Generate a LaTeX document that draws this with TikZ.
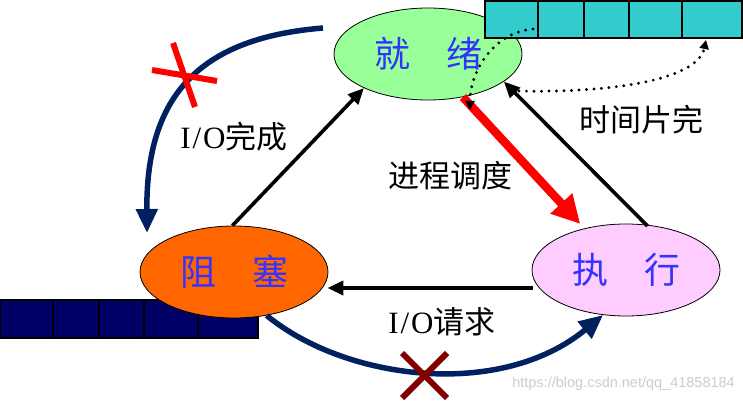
\documentclass[tikz,border=0pt]{standalone}
\usepackage{fontspec}
\setmainfont{Liberation Serif}
\newfontfamily\cjk{Noto Sans CJK SC}
\newfontfamily\lat[LetterSpace=6]{Liberation Serif}
\newfontfamily\wmfont{Liberation Sans}
\usetikzlibrary{shapes.geometric,arrows.meta,calc}
\definecolor{readyfill}{RGB}{153,255,153}
\definecolor{blockfill}{RGB}{255,102,0}
\definecolor{execfill}{RGB}{255,204,255}
\definecolor{qcyan}{RGB}{51,204,204}
\definecolor{qnavy}{RGB}{0,0,102}
\definecolor{curvenavy}{RGB}{0,32,96}
\definecolor{txtblue}{RGB}{51,51,255}
\definecolor{xdark}{RGB}{128,0,0}
\begin{document}
\begin{tikzpicture}[x=1pt,y=-1pt,
  state/.style={ellipse, draw=black, line width=0.8pt, minimum width=188pt,
    minimum height=92pt, inner sep=0pt, text=txtblue,
    font=\cjk\fontsize{36}{42}\selectfont},
  trans/.style={line width=3.6pt, -{Triangle[length=16pt,width=14pt]}},
  sched/.style={draw=red, line width=8.5pt, -{Triangle[length=28pt,width=28pt]}},
  lbl/.style={font=\fontsize{31}{37}\selectfont, text=black, inner sep=0pt},
  bigcurve/.style={draw=curvenavy, line width=5.5pt, -{Triangle[length=24pt,width=21pt]}},
  dotline/.style={line width=3.2pt, dash pattern=on 0pt off 7.5pt, line cap=round,
    -{Triangle[length=9pt,width=9pt]}},
  crossline/.style={line width=6pt},
  queuebox/.style={draw=black, line width=1.2pt},
]
\useasboundingbox (0,0) rectangle (743,401);

% ready state and its queue
\node[state, fill=readyfill] (ready) at (428,54) {就\hspace{1em}绪};
\draw[queuebox, fill=qcyan] (485,1) rectangle (742,38);
\foreach \qx in {538,584,629,682} \draw[queuebox] (\qx,1) -- (\qx,38);

% blocked queue and blocked state
\draw[queuebox, fill=qnavy] (0,300) rectangle (258,338);
\foreach \qx in {53,99,144,198} \draw[queuebox] (\qx,300) -- (\qx,338);
\node[state, fill=blockfill] (blocked) at (234,272) {阻\hspace{1em}塞};

% running state
\node[state, fill=execfill] (execute) at (626,270) {执\hspace{1em}行};

% transitions
\draw[trans] (blocked.92) -- (ready.208);
\draw[trans, shorten <=-2pt] (execute.66) -- (ready.340);
\draw[sched, shorten >=6pt] (ready.309) -- (execute.135);
\draw[trans] ($(execute.west)+(1,18)$) -- ($(blocked.east)+(-1,16)$);

% labels
\node[lbl] (lio1) at (234,137) {{\lat I/O}{\cjk 完成}};
\node[lbl] (lsch) at (450,176) {\cjk 进程调度};
\node[lbl] (ltime) at (641,120) {\cjk 时间片完};
\node[lbl] (lio2) at (442,322) {{\lat I/O}{\cjk 请求}};

% impossible transitions
\coordinate (topstart) at (323,28);
\coordinate (topend) at (147,233);
\draw[bigcurve] (topstart) .. controls (200,38) and (146,95) .. (topend);
\draw[bigcurve] (blocked.307) .. controls (345,380) and (500,400) .. (execute.243);
\draw[crossline, red] (173,43) -- (195,107);
\draw[crossline, red] (152,70) -- (217,81);
\draw[crossline, xdark] (402,353) -- (447,398);
\draw[crossline, xdark] (447,353) -- (402,398);

% dotted queue moves
\coordinate (qhead) at (533,29);
\coordinate (qin) at (470,110);
\coordinate (tsfrom) at (519,91);
\coordinate (qtail) at (706,40);
\draw[dotline] (qhead) .. controls (495,32) and (470,70) .. (qin);
\draw[dotline] (tsfrom) .. controls (620,93) and (698,78) .. (qtail);

% watermark
\node[font=\wmfont\fontsize{14.5}{16}\selectfont, text=gray!40, anchor=east, inner sep=0pt] (wm) at (735,384) {https://blog.csdn.net/qq\_41858184};
\end{tikzpicture}
\end{document}
